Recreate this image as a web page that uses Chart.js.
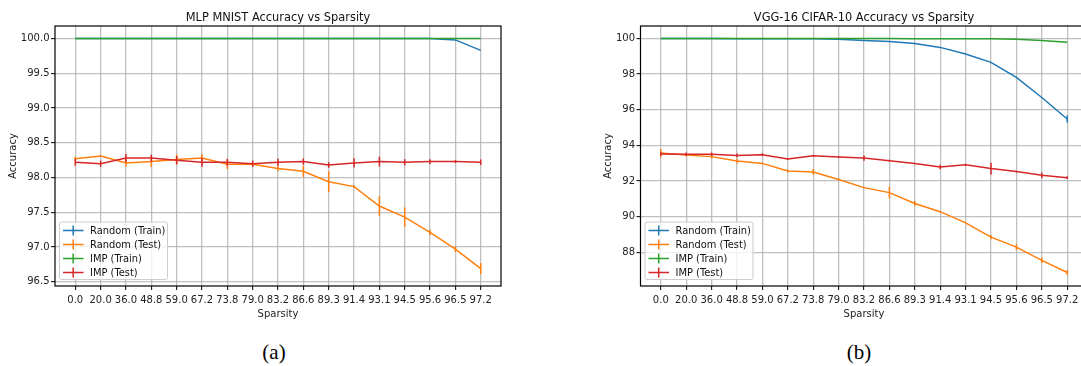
<!DOCTYPE html>
<html>
<head>
<meta charset="utf-8">
<script src="https://cdn.jsdelivr.net/npm/chart.js@4/dist/chart.umd.min.js"></script>
<style>
html,body{margin:0;padding:0;background:#fff;overflow:hidden;width:1081px;height:366px}
.box{position:absolute;top:0;height:330px}
#boxA{left:0;width:540px}
#boxB{left:540px;width:560px}
.cap{position:absolute;top:337px;width:60px;height:30px;line-height:30px;text-align:center;font-family:"Liberation Serif",serif;font-size:21px;color:#000}
</style>
</head>
<body>
<div class="box" id="boxA"><canvas id="mlp"></canvas></div>
<div class="box" id="boxB"><canvas id="vgg"></canvas></div>
<div class="cap" style="left:244px">(a)</div>
<div class="cap" style="left:829px">(b)</div>
<script>
const sparsity=["0.0","20.0","36.0","48.8","59.0","67.2","73.8","79.0","83.2","86.6","89.3","91.4","93.1","94.5","95.6","96.5","97.2"];

// MLP MNIST
const mlpRandTrain=[100,100,100,100,100,100,100,100,100,100,100,100,100,100,100,99.98,99.83];
const mlpRandTest=[98.27,98.31,98.21,98.23,98.26,98.28,98.19,98.19,98.13,98.09,97.94,97.87,97.59,97.43,97.21,96.97,96.69];
const mlpRandTestErr=[0.03,0.01,0.05,0.08,0.07,0.06,0.07,0.03,0.04,0.08,0.15,0.02,0.14,0.14,0.04,0.04,0.08];
const mlpImpTrain=[100,100,100,100,100,100,100,100,100,100,100,100,100,100,100,100,100];
const mlpImpTest=[98.22,98.2,98.28,98.28,98.25,98.22,98.22,98.2,98.22,98.23,98.18,98.21,98.23,98.22,98.23,98.23,98.22];
const mlpImpTestErr=[0.05,0.045,0.057,0.05,0.06,0.065,0.05,0.045,0.05,0.045,0.04,0.067,0.07,0.045,0.035,0.02,0.04];

// VGG-16 CIFAR-10
const vggRandTrain=[100,100,100,99.99,99.99,99.98,99.98,99.96,99.89,99.83,99.72,99.5,99.13,98.66,97.82,96.69,95.48];
const vggRandTrainErr=[0,0,0,0,0,0,0,0,0,0,0,0,0,0,0,0.02,0.2];
const vggRandTest=[93.57,93.46,93.37,93.12,92.99,92.57,92.51,92.09,91.63,91.35,90.74,90.28,89.65,88.85,88.29,87.55,86.87];
const vggRandTestErr=[0.23,0.08,0.1,0.13,0.05,0.08,0.16,0.05,0.05,0.33,0.14,0.03,0.03,0.12,0.16,0.15,0.14];
const vggImpTrain=[100,100,100,100,100,100,100,100,100,100,99.99,99.99,99.99,99.98,99.95,99.88,99.79];
const vggImpTest=[93.52,93.5,93.5,93.44,93.48,93.24,93.42,93.35,93.29,93.14,92.98,92.79,92.92,92.7,92.53,92.32,92.19];
const vggImpTestErr=[0.1,0.1,0.1,0.1,0.08,0.05,0.05,0.05,0.15,0.05,0.03,0.13,0.05,0.33,0.05,0.16,0.08];

const names=["Random (Train)","Random (Test)","IMP (Train)","IMP (Test)"];
const colors=["#1f77b4","#ff7f0e","#2ca02c","#d62728"];

Chart.defaults.font.family="'DejaVu Sans', sans-serif";
Chart.defaults.color="#222";

const pts=arr=>arr.map((v,i)=>({x:i,y:v}));

// vertical error bars through the chart scales
const errbars={id:'errbars',afterDatasetsDraw(chart){
  const ctx=chart.ctx,xs=chart.scales.x,ys=chart.scales.y,a=chart.chartArea;
  ctx.save();
  ctx.beginPath();ctx.rect(a.left,a.top,a.right-a.left,a.bottom-a.top);ctx.clip();
  chart.data.datasets.forEach(ds=>{
    if(!ds.err)return;
    ctx.strokeStyle=ds.borderColor;ctx.lineWidth=1.5;
    ds.data.forEach((p,i)=>{
      const e=ds.err[i];if(!e)return;
      const x=xs.getPixelForValue(p.x);
      ctx.beginPath();
      ctx.moveTo(x,ys.getPixelForValue(p.y-e));
      ctx.lineTo(x,ys.getPixelForValue(p.y+e));
      ctx.stroke();
    });
  });
  ctx.restore();
}};

// frame, title and legend in matplotlib style
const decor={id:'decor',afterDraw(chart,args,opts){
  const ctx=chart.ctx,a=chart.chartArea;
  ctx.save();
  ctx.strokeStyle="#000";ctx.lineWidth=1.2;
  ctx.strokeRect(a.left,a.top,a.right-a.left,a.bottom-a.top);
  ctx.fillStyle="#111";ctx.font="11.4px 'DejaVu Sans'";
  ctx.textAlign="center";ctx.textBaseline="alphabetic";
  ctx.fillText(opts.title,(a.left+a.right)/2,20.5);
  // legend
  const bx=a.left+4.5,bw=108,bh=57.5,by=a.bottom-6.5-bh;
  ctx.fillStyle="rgba(255,255,255,0.8)";ctx.strokeStyle="#cccccc";ctx.lineWidth=1;
  ctx.beginPath();
  if(ctx.roundRect)ctx.roundRect(bx,by,bw,bh,2);else ctx.rect(bx,by,bw,bh);
  ctx.fill();ctx.stroke();
  ctx.font="9.9px 'DejaVu Sans'";ctx.textAlign="left";ctx.textBaseline="middle";
  chart.data.datasets.forEach((ds,k)=>{
    const y=by+8.5+k*14;
    ctx.strokeStyle=ds.borderColor;ctx.lineWidth=1.5;
    ctx.beginPath();ctx.moveTo(bx+3.5,y);ctx.lineTo(bx+24,y);ctx.stroke();
    ctx.beginPath();ctx.moveTo(bx+13.7,y-5);ctx.lineTo(bx+13.7,y+5);ctx.stroke();
    ctx.fillStyle="#111";
    ctx.fillText(ds.label,bx+30.5,y+0.5);
  });
  ctx.restore();
}};

function makeChart(id,title,series,errs,yMin,yMax,yTicks,yDigits,yWidth,yTitlePad,rightPad){
  const datasets=series.map((s,k)=>({
    label:names[k],data:pts(s),err:errs[k],
    borderColor:colors[k],backgroundColor:colors[k],
    borderWidth:1.5,pointRadius:0,tension:0,order:4-k
  }));
  return new Chart(document.getElementById(id),{
    type:'line',
    data:{datasets:datasets},
    plugins:[errbars,decor],
    options:{
      responsive:true,maintainAspectRatio:false,animation:false,
      layout:{padding:{top:26,left:0,right:rightPad,bottom:0}},
      plugins:{legend:{display:false},tooltip:{enabled:false},decor:{title:title}},
      scales:{
        x:{type:'linear',min:-0.8,max:16.8,
          afterBuildTicks:s=>{s.ticks=sparsity.map((_,i)=>({value:i}));},
          afterFit:s=>{s.height=44;},
          ticks:{callback:v=>sparsity[v],autoSkip:false,maxRotation:0,padding:4.5,font:{size:10},color:"#222"},
          grid:{color:"rgba(176,176,176,0.8)",lineWidth:1.3,tickLength:4,tickColor:"#000",tickWidth:1},
          border:{display:false},
          title:{display:true,text:"Sparsity",font:{size:10},color:"#222",padding:{top:0,bottom:10}}
        },
        y:{type:'linear',min:yMin,max:yMax,
          afterBuildTicks:s=>{s.ticks=yTicks.map(v=>({value:v}));},
          afterFit:s=>{s.width=yWidth;},
          ticks:{callback:v=>v.toFixed(yDigits),padding:1.5,font:{size:10},color:"#222"},
          grid:{color:"rgba(176,176,176,0.8)",lineWidth:1.3,tickLength:4,tickColor:"#000",tickWidth:1},
          border:{display:false},
          title:{display:true,text:"Accuracy",font:{size:10},color:"#222",padding:{top:yTitlePad,bottom:0}}
        }
      }
    }
  });
}

makeChart('mlp',"MLP MNIST Accuracy vs Sparsity",
  [mlpRandTrain,mlpRandTest,mlpImpTrain,mlpImpTest],
  [null,mlpRandTestErr,null,mlpImpTestErr],
  96.44,100.18,[96.5,97.0,97.5,98.0,98.5,99.0,99.5,100.0],1,55,7.8,39);

makeChart('vgg',"VGG-16 CIFAR-10 Accuracy vs Sparsity",
  [vggRandTrain,vggRandTest,vggImpTrain,vggImpTest],
  [vggRandTrainErr,vggRandTestErr,null,vggImpTestErr],
  86.11,100.7,[88,90,92,94,96,98,100],0,100.5,62,12.5);
</script>
</body>
</html>
